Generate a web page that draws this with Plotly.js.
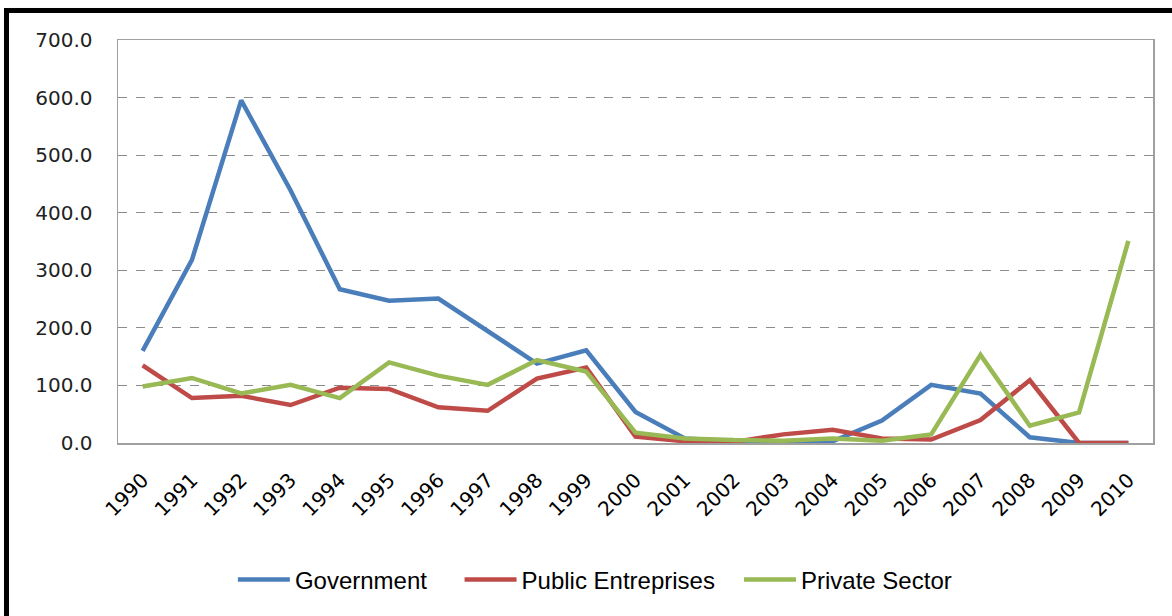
<!DOCTYPE html>
<html>
<head>
<meta charset="utf-8">
<script src="https://cdn.plot.ly/plotly-3.0.1.min.js"></script>
<style>
  html, body { margin: 0; padding: 0; width: 1172px; height: 616px; overflow: hidden; background: #fff; }
  #chart { position: absolute; left: 0; top: 0; width: 1172px; height: 616px; }
  #frame { position: absolute; left: 4px; top: 8px; width: 1200px; height: 700px; border: 5px solid #000; box-sizing: border-box; pointer-events: none; box-shadow: 2px 2px 3px rgba(0,0,0,0.35); }
</style>
</head>
<body>
<div id="chart"></div>
<div id="frame"></div>
<script>
const years = ["1990","1991","1992","1993","1994","1995","1996","1997","1998","1999","2000",
               "2001","2002","2003","2004","2005","2006","2007","2008","2009","2010"];
const government = [160, 318, 595, 439, 267, 247, 251, 195, 138, 161, 54, 8, 3, 2, 3, 39, 101, 86, 10, 0, 0];
const publicEntreprises = [135, 78, 82, 66, 96, 94, 62, 56, 112, 131, 11, 3, 2, 15, 23, 8, 6, 40, 109, 0, 0];
const privateSector = [98, 113, 86, 101, 78, 140, 117, 101, 144, 124, 18, 8, 5, 4, 8, 4, 15, 153, 30, 53, 351];
const yTicks = [0, 100, 200, 300, 400, 500, 600, 700];

const mk = (name, y, color, leg) => ({
  type: 'scatter', mode: 'lines', name: name, x: years, y: y, legend: leg,
  line: { color: color, width: 4.5 }
});

const data = [
  mk('Government', government, '#4a7ebb', 'legend'),
  mk('Public Entreprises', publicEntreprises, '#be4b48', 'legend2'),
  mk('Private Sector', privateSector, '#98b954', 'legend3')
];

const legFont = { family: 'Liberation Sans, Arial, sans-serif', size: 24, color: '#000' };
const leg = (x) => ({
  orientation: 'h', x: x, xanchor: 'left', y: -0.34, yanchor: 'middle',
  font: legFont, bgcolor: 'rgba(0,0,0,0)', itemwidth: 52
});

const layout = {
  width: 1172, height: 616,
  margin: { l: 118, r: 19, t: 40, b: 173 },
  paper_bgcolor: '#fff', plot_bgcolor: '#fff',
  showlegend: true,
  legend: leg(0.111),
  legend2: leg(0.330),
  legend3: leg(0.600),
  xaxis: {
    type: 'category', range: [-0.5, 20.5],
    tickangle: -45, ticks: '', ticklabelstandoff: 16,
    tickfont: { family: 'DejaVu Sans, Verdana, sans-serif', size: 20, color: '#000' },
    showgrid: false, showline: true, linecolor: '#a0a0a0', linewidth: 1.5, mirror: true,
    zeroline: false, fixedrange: true
  },
  yaxis: {
    range: [0, 700], tickvals: yTicks, tickformat: '.1f',
    tickfont: { family: 'DejaVu Sans, Verdana, sans-serif', size: 20, color: '#222' },
    showgrid: true, gridcolor: '#8c8c8c', griddash: 'dash', gridwidth: 1,
    showline: true, linecolor: '#a0a0a0', linewidth: 1.5, mirror: true,
    zeroline: false, ticks: '', ticklabelstandoff: 20, fixedrange: true
  }
};

Plotly.newPlot('chart', data, layout, { displayModeBar: false, staticPlot: true });
</script>
</body>
</html>
